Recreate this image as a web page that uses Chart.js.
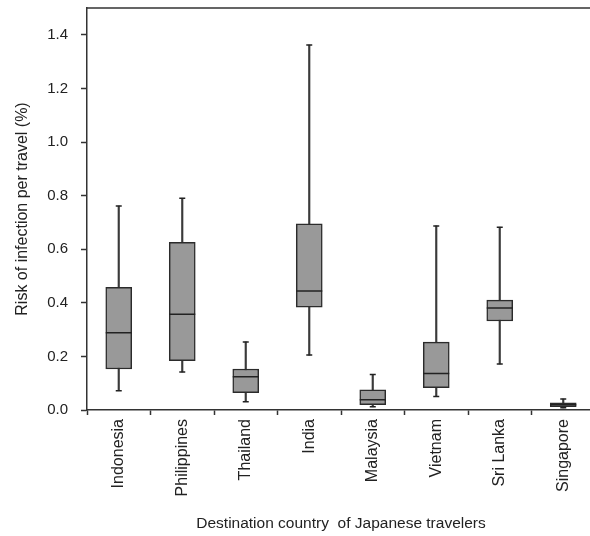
<!DOCTYPE html>
<html>
<head>
<meta charset="utf-8">
<script src="https://cdn.jsdelivr.net/npm/chart.js@4"></script>
<style>
  html, body { margin: 0; padding: 0; background: #fff; overflow: hidden; }
  #wrap { width: 600px; height: 536px; }
</style>
</head>
<body>
<div id="wrap"><canvas id="c" width="600" height="536"></canvas></div>
<script>
const categories = ['Indonesia', 'Philippines', 'Thailand', 'India', 'Malaysia', 'Vietnam', 'Sri Lanka', 'Singapore'];
const whiskerLow  = [0.072, 0.142, 0.031, 0.205, 0.012, 0.050, 0.172, 0.008];
const q1          = [0.153, 0.184, 0.065, 0.384, 0.020, 0.083, 0.332, 0.012];
const median      = [0.288, 0.357, 0.124, 0.444, 0.038, 0.136, 0.381, 0.020];
const q3          = [0.458, 0.626, 0.153, 0.695, 0.075, 0.253, 0.410, 0.027];
const whiskerHigh = [0.761, 0.790, 0.254, 1.362, 0.132, 0.687, 0.682, 0.041];
const yTicks = [0.0, 0.2, 0.4, 0.6, 0.8, 1.0, 1.2, 1.4];
const yTitle = 'Risk of infection per travel (%)';
const xTitle = 'Destination country  of Japanese travelers';

const FONT = "'Liberation Sans', Arial, sans-serif";
const LINE = '#333333';
const TEXT = '#222222';

const frame = {
  id: 'frame',
  afterDraw(chart) {
    const { ctx, chartArea: { left, right, top, bottom } } = chart;
    ctx.save();
    ctx.strokeStyle = LINE;
    ctx.lineWidth = 1.5;
    ctx.beginPath();
    ctx.moveTo(left, top);
    ctx.lineTo(right, top);
    ctx.lineTo(right, bottom);
    ctx.stroke();
    ctx.restore();
  }
};

new Chart(document.getElementById('c'), {
  type: 'bar',
  data: {
    labels: categories,
    datasets: [
      {
        type: 'bar',
        data: categories.map((c, i) => [whiskerLow[i], whiskerHigh[i]]),
        backgroundColor: '#3a3a3a',
        barThickness: 1.5,
        grouped: false,
        order: 5
      },
      {
        type: 'bar',
        data: categories.map((c, i) => [q1[i], q3[i]]),
        backgroundColor: '#999999',
        borderColor: '#2b2b2b',
        borderWidth: 1.5,
        borderSkipped: false,
        barThickness: 26,
        grouped: false,
        order: 4
      },
      {
        type: 'line',
        data: median,
        showLine: false,
        pointStyle: 'line',
        pointRadius: 13,
        pointBorderWidth: 1.5,
        pointBorderColor: '#222222',
        order: 1
      },
      {
        type: 'line',
        data: whiskerHigh,
        showLine: false,
        pointStyle: 'line',
        pointRadius: 3,
        pointBorderWidth: 1.5,
        pointBorderColor: '#222222',
        order: 2
      },
      {
        type: 'line',
        data: whiskerLow,
        showLine: false,
        pointStyle: 'line',
        pointRadius: 3,
        pointBorderWidth: 1.5,
        pointBorderColor: '#222222',
        order: 2
      }
    ]
  },
  options: {
    responsive: false,
    animation: false,
    events: [],
    layout: { autoPadding: false, padding: { left: 0, right: 5, top: 8, bottom: 0 } },
    plugins: { legend: { display: false }, tooltip: { enabled: false } },
    scales: {
      x: {
        offset: true,
        afterFit(scale) { scale.height = 126; scale.paddingLeft = 0; scale.paddingRight = 0; },
        border: { display: true, color: LINE, width: 1.5 },
        grid: { offset: true, drawOnChartArea: false, drawTicks: true, tickLength: 5, tickColor: LINE, tickWidth: 1.5 },
        ticks: { minRotation: 90, maxRotation: 90, padding: 4, color: TEXT, font: { family: FONT, size: 16 } },
        title: { display: true, text: xTitle, color: TEXT, font: { family: FONT, size: 15.5 }, padding: { top: 0, bottom: 3 } }
      },
      y: {
        min: 0,
        max: 1.5,
        afterFit(scale) { scale.width = 87; scale.paddingTop = 0; scale.paddingBottom = 0; },
        afterBuildTicks(scale) { scale.ticks = yTicks.map(v => ({ value: v })); },
        border: { display: true, color: LINE, width: 1.5 },
        grid: { drawOnChartArea: false, drawTicks: true, tickLength: 6, tickColor: LINE, tickWidth: 1.5 },
        ticks: { padding: 13, color: TEXT, font: { family: FONT, size: 15 }, callback: v => Number(v).toFixed(1) },
        title: { display: true, text: yTitle, color: TEXT, font: { family: FONT, size: 16 }, padding: { top: 13, bottom: 0 } }
      }
    }
  },
  plugins: [frame]
});
</script>
</body>
</html>
